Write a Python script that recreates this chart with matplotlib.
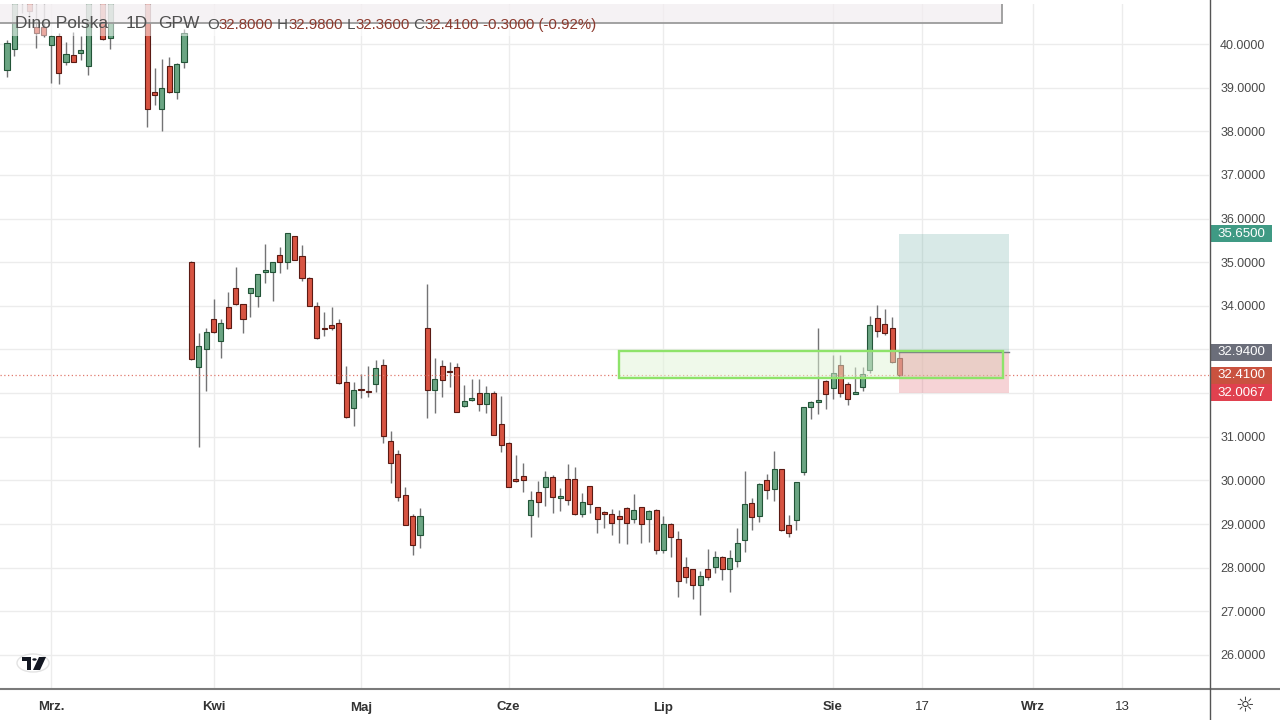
import matplotlib
matplotlib.use("Agg")
import matplotlib.pyplot as plt
from matplotlib.patches import Rectangle, Circle, Polygon
import numpy as np

# daily bars, oldest first (bars 12 and 15-18 sit above the visible range)
opens = [39.40, 39.89, 41.10, 41.30, 40.39, 40.39, 39.98, 40.18, 39.59, 39.75,
         39.79, 39.50, 41.30, 41.40, 40.14, 41.40, 41.60, 41.50, 41.70, 41.60,
         38.90, 38.51, 39.50, 38.90, 39.59,
         35.00, 32.60, 33.01, 33.70, 33.19, 33.97, 34.41, 34.04, 34.29, 34.23,
         34.78, 34.78, 35.16, 35.00, 35.60, 35.14, 34.64, 34.00, 33.49, 33.56,
         33.61, 32.25, 31.66, 32.09, 32.05, 32.21, 32.64, 30.90, 30.60, 29.67,
         29.18, 28.75, 33.49, 32.07, 32.62, 32.51, 32.60, 31.70, 31.84, 32.00,
         31.75, 32.00, 31.29, 30.86, 30.03, 30.10, 29.21, 29.73, 29.85, 30.08,
         29.60, 30.03, 30.03, 29.23, 29.87, 29.39, 29.28, 29.23, 29.18, 29.37,
         29.12, 29.39, 29.12, 29.32, 28.41, 29.00, 28.66, 28.02, 27.97, 27.60,
         27.97, 28.02, 28.24, 27.97, 28.15, 28.63, 29.48, 29.18, 30.01, 29.80,
         30.26, 28.98, 29.09, 30.19, 31.68, 31.80, 32.28, 32.12, 32.64, 32.21,
         31.98, 32.14, 32.53, 33.72, 33.58, 33.49, 32.80]
highs = [40.09, 41.00, 41.60, 41.40, 41.00, 40.95, 40.20, 40.25, 40.05, 40.27,
         40.18, 41.40, 41.80, 41.50, 41.40, 41.70, 41.80, 41.70, 41.90, 41.70,
         39.45, 39.66, 39.70, 39.56, 40.35,
         35.02, 33.38, 33.49, 34.16, 33.70, 34.32, 34.89, 34.05, 34.42, 34.74,
         35.42, 35.01, 35.35, 35.68, 35.61, 35.39, 34.65, 34.09, 33.86, 33.97,
         33.70, 32.62, 32.25, 32.44, 32.62, 32.76, 32.78, 31.13, 30.70, 29.85,
         29.23, 29.37, 34.50, 32.80, 32.76, 32.71, 32.69, 32.19, 32.32, 32.32,
         32.16, 32.05, 31.93, 30.88, 30.58, 30.40, 29.76, 29.99, 30.22, 30.12,
         29.83, 30.38, 30.31, 29.71, 29.88, 29.40, 29.30, 29.34, 29.32, 29.38,
         29.69, 29.40, 29.32, 29.34, 29.18, 29.02, 28.84, 28.24, 27.98, 27.92,
         28.43, 28.38, 28.27, 28.41, 28.91, 30.22, 29.60, 29.94, 30.15, 30.67,
         30.27, 29.21, 29.97, 31.69, 31.81, 33.49, 32.29, 32.87, 32.87, 32.25,
         32.60, 32.60, 33.77, 34.02, 33.93, 33.74, 32.98]
lows = [39.24, 39.73, 40.71, 40.60, 39.91, 40.16, 39.11, 39.08, 39.52, 39.58,
        39.63, 39.29, 41.10, 40.09, 39.89, 41.20, 41.30, 41.20, 41.40, 38.10,
        38.60, 38.01, 38.88, 38.74, 39.45,
        32.76, 30.77, 32.05, 33.38, 32.80, 33.47, 34.02, 33.38, 33.74, 33.97,
        34.52, 34.11, 34.75, 34.84, 35.04, 34.57, 33.99, 33.24, 33.31, 33.45,
        32.22, 31.44, 31.25, 31.89, 31.91, 32.03, 30.86, 29.94, 29.53, 28.97,
        28.29, 28.45, 31.43, 31.54, 31.91, 32.14, 31.56, 31.69, 31.83, 31.59,
        31.54, 31.03, 30.65, 29.84, 29.97, 29.73, 28.70, 29.16, 29.41, 29.25,
        29.30, 29.44, 29.21, 29.16, 29.25, 28.79, 28.91, 28.75, 28.57, 28.54,
        29.02, 28.57, 28.59, 28.31, 28.34, 28.24, 27.33, 27.65, 27.28, 26.92,
        27.72, 27.88, 27.72, 27.44, 28.02, 28.36, 28.86, 29.05, 29.57, 29.53,
        28.85, 28.70, 28.86, 30.12, 31.41, 31.52, 31.64, 31.87, 31.91, 31.73,
        31.97, 32.05, 32.46, 33.29, 33.33, 32.70, 32.36]
closes = [40.02, 40.95, 41.50, 40.75, 40.25, 40.21, 40.18, 39.34, 39.77, 39.59,
          39.86, 41.20, 41.60, 40.11, 41.30, 41.60, 41.50, 41.70, 41.60, 38.51,
          38.83, 38.99, 38.90, 39.54, 40.25,
          32.78, 33.08, 33.40, 33.40, 33.61, 33.49, 34.04, 33.70, 34.41, 34.73,
          34.82, 35.00, 35.00, 35.67, 35.05, 34.64, 34.00, 33.26, 33.47, 33.49,
          32.23, 31.45, 32.07, 32.07, 32.03, 32.58, 31.02, 30.40, 29.62, 28.98,
          28.52, 29.18, 32.07, 32.32, 32.30, 32.48, 31.57, 31.82, 31.89, 31.75,
          32.00, 31.04, 30.81, 29.85, 29.99, 30.01, 29.55, 29.51, 30.08, 29.62,
          29.64, 29.55, 29.23, 29.51, 29.46, 29.12, 29.23, 29.02, 29.12, 29.02,
          29.32, 29.00, 29.30, 28.41, 29.00, 28.70, 27.69, 27.79, 27.60, 27.81,
          27.79, 28.24, 27.97, 28.22, 28.57, 29.46, 29.16, 29.92, 29.78, 30.26,
          28.86, 28.79, 29.96, 31.68, 31.80, 31.84, 31.98, 32.46, 32.00, 31.87,
          32.03, 32.44, 33.56, 33.42, 33.38, 32.71, 32.41]

tick_bars = [6, 28, 48, 68, 89, 112, 124.07, 139.1, 151.2]
tick_labels = ["Mrz.", "Kwi", "Maj", "Cze", "Lip", "Sie", "17", "Wrz", "13"]
tick_bold = [True, True, True, True, True, True, False, True, False]
price_ticks = np.arange(26, 41)

zone_bars = (83, 135.05)
zone_prices = (32.35, 32.965)
pos_bars = (121, 135.9)
target, entry, stop = 35.65, 32.94, 32.0067
banner_bars = (-5, 134.9)
banner_bottom = 40.48

W, H = 1280, 720
plt.rcParams["font.family"] = ["Liberation Sans", "DejaVu Sans"]

fig = plt.figure(figsize=(12.8, 7.2), dpi=100)
ax = fig.add_axes([0, 31 / H, 1209 / W, 685 / H])
ax.set_xlim(-0.949, 162.98)
ax.set_ylim(25.22, 40.917)

ax.set_axisbelow(True)
ax.grid(True, color="#ececec", lw=1)
ax.set_yticks(price_ticks)
ax.yaxis.tick_right()
# 32 and 33 are covered by the entry / stop labels
ax.set_yticklabels(["" if v in (32, 33) else f"{v:.4f}" for v in price_ticks],
                   fontsize=9, color="#4a4a4a")
ax.tick_params(axis="y", length=0, pad=8)
ax.set_xticks(tick_bars)
ax.set_xticklabels(tick_labels, fontsize=9.5, color="#333333")
for lab, b in zip(ax.get_xticklabels(), tick_bold):
    lab.set_fontweight("bold" if b else "normal")
ax.tick_params(axis="x", length=0, pad=9)
for s in ax.spines.values():
    s.set_visible(False)

# candles
up_fc, up_ec = "#6ba583", "#225437"
dn_fc, dn_ec = "#d75442", "#5b1a13"
for i, (o, h, l, c) in enumerate(zip(opens, highs, lows, closes)):
    ax.vlines(i, l, h, color="#737375", lw=1, zorder=2)
    up = c >= o
    ax.add_patch(Rectangle((i - 0.34, min(o, c)), 0.68, max(abs(c - o), 0.03),
                           facecolor=up_fc if up else dn_fc,
                           edgecolor=up_ec if up else dn_ec, lw=0.8, zorder=3))

# last price line
ax.axhline(closes[-1], color="#e07a6e", ls=(0, (1, 2)), lw=0.9, zorder=4)

# support zone fill (below the position tool)
zw = zone_bars[1] - zone_bars[0]
zh = zone_prices[1] - zone_prices[0]
ax.add_patch(Rectangle((zone_bars[0], zone_prices[0]), zw, zh,
                       facecolor=(225 / 255, 245 / 255, 215 / 255, 0.5), edgecolor="none", zorder=5))

# long position tool
pw = pos_bars[1] - pos_bars[0]
ax.add_patch(Rectangle((pos_bars[0], entry), pw, target - entry,
                       facecolor=(100 / 255, 170 / 255, 160 / 255, 0.25), edgecolor="none", zorder=6))
ax.add_patch(Rectangle((pos_bars[0], stop), pw, entry - stop,
                       facecolor=(220 / 255, 80 / 255, 95 / 255, 0.25), edgecolor="none", zorder=6))
ax.plot([pos_bars[0], pos_bars[1]], [entry, entry], color="#787b86", lw=1, zorder=6.5)

# support zone border
ax.add_patch(Rectangle((zone_bars[0], zone_prices[0]), zw, zh,
                       facecolor="none", edgecolor="#8ee36a", lw=1.7, zorder=7))

# legend backdrop and banner rectangle at the top
ax.add_patch(Rectangle((0, 1 - 32 / 685), 600 / 1209, 31 / 685, transform=ax.transAxes,
                       facecolor=(1, 1, 1, 0.5), edgecolor="none", zorder=5.5))
ax.add_patch(Rectangle((banner_bars[0], banner_bottom), banner_bars[1] - banner_bars[0], 3,
                       facecolor=(0.95, 0.93, 0.94, 0.7), edgecolor="#9b9b9b", lw=1.3, zorder=7))

# price labels on the scale
ytr = ax.get_yaxis_transform()
for val, col in [(target, "#3f9a84"), (entry, "#6b6e7a"), (closes[-1], "#c9523f"), (stop, "#e0414f")]:
    ax.add_patch(Rectangle((1.0017, val - 0.195), 0.0505, 0.39, transform=ytr,
                           facecolor=col, edgecolor="none", clip_on=False, zorder=20))
    ax.text(1.027, val, f"{val:.4f}", transform=ytr, ha="center", va="center",
            fontsize=9.5, color="white", clip_on=False, zorder=21)

# frame lines
fig.add_artist(plt.Line2D([0, 1], [31 / H, 31 / H], color="#7a7a7a", lw=1.5))
fig.add_artist(plt.Line2D([1209.5 / W, 1209.5 / W], [0, 1], color="#555555", lw=1))

# legend text
rend = fig.canvas.get_renderer()


def put_row(x, y, parts, size):
    for s, col in parts:
        t = fig.text(x / W, 1 - y / H, s, color=col, fontsize=size, va="center")
        x += t.get_window_extent(renderer=rend).width


gray, red = "#505050", "#8c3a2e"
for x, s in [(15, "Dino Polska"), (126, "1D"), (158, "GPW")]:
    fig.text(x / W, 1 - 24 / H, s, color=gray, fontsize=12.5, va="center")
chg = closes[-1] - closes[-2]
put_row(207, 25, [("O", gray), (f"{opens[-1]:.4f}", red), (" H", gray), (f"{highs[-1]:.4f}", red),
                  (" L", gray), (f"{lows[-1]:.4f}", red), (" C", gray), (f"{closes[-1]:.4f}", red),
                  (f" {chg:.4f} ({chg / closes[-2] * 100:.2f}%)", red)], 10.8)


# logo and settings icon
def px(x, y):
    return (x / W, 1 - y / H)


fig.add_artist(Circle(px(33, 663), 16 / W, transform=fig.transFigure, facecolor="white",
                      edgecolor="#e3e3e3", lw=1))
for poly in ([(22, 657), (31, 657), (31, 670), (27, 670), (27, 661), (22, 661)],
             [(39, 657), (46, 657), (40, 670), (33, 670)]):
    fig.add_artist(Polygon([px(*p) for p in poly], closed=True, transform=fig.transFigure,
                           facecolor="#131722", edgecolor="none"))
fig.add_artist(Circle(px(34.5, 659.5), 2.2 / W, transform=fig.transFigure, facecolor="#131722"))
fig.text(1245 / W, 1 - 705 / H, "\u263c", fontsize=15, color="#333333", ha="center", va="center",
         family="DejaVu Sans")

fig.savefig("out.png", dpi=100)
